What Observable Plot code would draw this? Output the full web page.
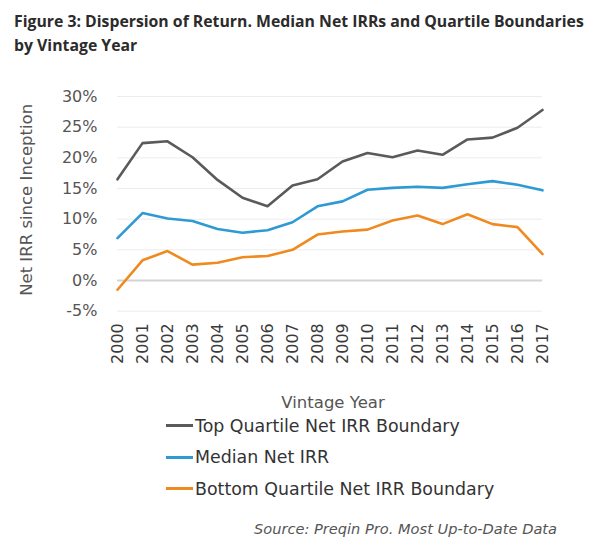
<!DOCTYPE html>
<html>
<head>
<meta charset="utf-8">
<script src="https://cdn.jsdelivr.net/npm/d3@7"></script>
<script src="https://cdn.jsdelivr.net/npm/@observablehq/plot@0.6"></script>
<style>
  body { margin: 0; width: 600px; height: 548px; background: #fff; position: relative; font-family: "DejaVu Sans", sans-serif; overflow: hidden; }
  #title { position: absolute; left: 14px; top: 9px; font: bold 15.8px "Open Sans", sans-serif; line-height: 24px; color: #2b2b2b; white-space: nowrap; }
  #chart { position: absolute; left: 0; top: 70px; }
  #legend { position: absolute; left: 166px; top: 410px; }
  .row { display: flex; align-items: center; height: 31.5px; font-size: 17.4px; color: #333; }
  .sw { width: 27px; height: 3px; margin-right: 2px; }
  #source { position: absolute; right: 43px; top: 520px; font-style: italic; font-size: 14.6px; color: #555; white-space: nowrap; }
</style>
</head>
<body>
<div id="title">Figure 3: Dispersion of Return. Median Net IRRs and Quartile Boundaries<br>by Vintage Year</div>
<div id="chart"></div>
<div id="legend"></div>
<div id="source">Source: Preqin Pro. Most Up-to-Date Data</div>
<script>
const years = [2000, 2001, 2002, 2003, 2004, 2005, 2006, 2007, 2008, 2009, 2010, 2011, 2012, 2013, 2014, 2015, 2016, 2017];
const topQuartile = [16.5, 22.4, 22.7, 20.1, 16.4, 13.5, 12.1, 15.5, 16.5, 19.4, 20.8, 20.1, 21.2, 20.5, 23.0, 23.3, 24.9, 27.8];
const median = [6.9, 11.0, 10.1, 9.7, 8.4, 7.8, 8.2, 9.5, 12.1, 12.9, 14.8, 15.1, 15.3, 15.1, 15.7, 16.2, 15.6, 14.7];
const bottomQuartile = [-1.5, 3.3, 4.8, 2.6, 2.9, 3.8, 4.0, 5.0, 7.5, 8.0, 8.3, 9.8, 10.6, 9.2, 10.8, 9.2, 8.7, 4.3];
const seriesNames = ["Top Quartile Net IRR Boundary", "Median Net IRR", "Bottom Quartile Net IRR Boundary"];
const seriesColors = ["#5a5a5a", "#2e9ad4", "#ee8a1e"];
const yTicks = [-5, 0, 5, 10, 15, 20, 25, 30];

const seriesValues = [topQuartile, median, bottomQuartile];
const data = seriesNames.flatMap((name, i) => years.map((year, j) => ({series: name, year, value: seriesValues[i][j]})));

const plot = Plot.plot({
  width: 600,
  height: 345,
  marginTop: 26,
  marginBottom: 104.3,
  marginLeft: 117,
  marginRight: 58,
  style: {fontFamily: "DejaVu Sans, sans-serif", fontSize: "16px", background: "transparent", overflow: "visible"},
  x: {type: "linear", domain: [2000, 2017]},
  y: {domain: [-5, 30]},
  color: {domain: seriesNames, range: seriesColors},
  marks: [
    Plot.ruleY(yTicks.filter(d => d !== 0), {x1: 2000, x2: 2017, stroke: "#ececec", strokeWidth: 1}),
    Plot.ruleY([0], {x1: 2000, x2: 2017, stroke: "#d4d4d4", strokeWidth: 2}),
    Plot.axisY({ticks: yTicks, tickFormat: d => d + "%", tickSize: 0, tickPadding: 20, label: null, fill: "#555", fontSize: 16}),
    Plot.axisX({ticks: years, tickFormat: d => String(d), tickRotate: -90, tickSize: 0, tickPadding: 12, label: null, fill: "#3a3a3a", fontSize: 16}),
    Plot.line(data, {x: "year", y: "value", stroke: "series", strokeWidth: 2.6, curve: "linear"}),
    Plot.text(["Vintage Year"], {frameAnchor: "bottom", textAnchor: "middle", dx: 3, dy: 92, fill: "#555", fontSize: 16.5, lineAnchor: "middle"}),
    Plot.text(["Net IRR since Inception"], {frameAnchor: "left", textAnchor: "middle", dx: -91, dy: -4, rotate: -90, fill: "#555", fontSize: 16.5, lineAnchor: "middle"})
  ]
});
document.getElementById("chart").appendChild(plot);

const legend = document.getElementById("legend");
seriesNames.forEach((name, i) => {
  const row = document.createElement("div");
  row.className = "row";
  const sw = document.createElement("span");
  sw.className = "sw";
  sw.style.background = seriesColors[i];
  const label = document.createElement("span");
  label.textContent = name;
  row.appendChild(sw);
  row.appendChild(label);
  legend.appendChild(row);
});
</script>
</body>
</html>
